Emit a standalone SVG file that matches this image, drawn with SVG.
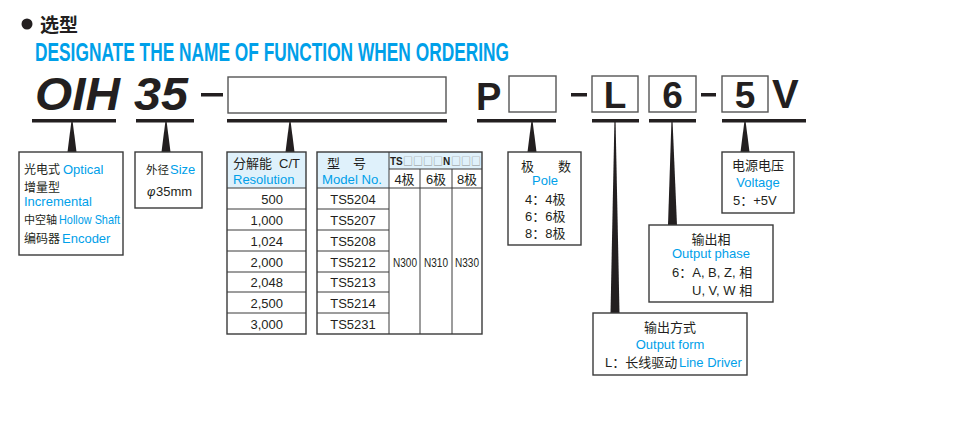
<svg xmlns="http://www.w3.org/2000/svg" width="963" height="428" viewBox="0 0 963 428">
<style>
.t{font-family:"Liberation Sans","Noto Sans CJK SC",sans-serif;font-size:13px;fill:#231f20}
.b{fill:#00a0e9}
.big{font-family:"Liberation Sans",Arial,sans-serif;font-weight:bold;fill:#231f20}
.box{fill:#fff;stroke:#3a3a3a;stroke-width:1.4}
.cbox{fill:#fff;stroke:#555;stroke-width:1.4}
.hdr{fill:#dff1fb;stroke:none}
.ln{stroke:#3a3a3a;stroke-width:1;fill:none}
.bar{fill:#231f20}
.conn{fill:#231f20}
.sq{font-family:"Noto Sans CJK SC",sans-serif;font-weight:normal;fill:#8a8a8a}
</style>
<rect width="963" height="428" fill="#fff"/>
<g id="title">
<circle cx="27" cy="24" r="5.5" fill="#231f20"/>
<text x="40" y="32" style="font-family:'Noto Sans CJK SC',sans-serif;font-weight:bold;font-size:19px;fill:#231f20">选型</text>
<text x="35" y="61" textLength="474" lengthAdjust="spacingAndGlyphs" style="font-family:'Liberation Sans',Arial,sans-serif;font-weight:bold;font-size:25px;fill:#00a0e9">DESIGNATE THE NAME OF FUNCTION WHEN ORDERING</text>
</g>
<g id="code">
<text class="big" x="35" y="110" font-size="46" font-style="italic" textLength="85" lengthAdjust="spacingAndGlyphs">OIH</text>
<text class="big" x="134" y="110" font-size="46" font-style="italic" textLength="54" lengthAdjust="spacingAndGlyphs">35</text>
<rect class="bar" x="201" y="93" width="22" height="3.5"/>
<rect class="cbox" x="228" y="77" width="218" height="36"/>
<text class="big" x="476" y="110" font-size="38">P</text>
<rect class="cbox" x="509" y="76" width="47" height="36"/>
<rect class="bar" x="571" y="93" width="16" height="3.5"/>
<rect class="cbox" x="592" y="76" width="46" height="36"/>
<text class="big" x="615" y="108" font-size="37" text-anchor="middle">L</text>
<rect class="cbox" x="649" y="76" width="47" height="36"/>
<text class="big" x="672.5" y="108" font-size="37" text-anchor="middle">6</text>
<rect class="bar" x="701" y="93" width="15" height="3.5"/>
<rect class="cbox" x="722" y="76" width="46" height="36"/>
<text class="big" x="745" y="108" font-size="37" text-anchor="middle">5</text>
<text class="big" x="772" y="108" font-size="40">V</text>
<rect class="bar" x="32" y="119" width="84" height="3.5"/>
<rect class="bar" x="136" y="119" width="58" height="3.5"/>
<rect class="bar" x="227" y="119" width="220" height="3.5"/>
<rect class="bar" x="477" y="119" width="79" height="3.5"/>
<rect class="bar" x="592" y="119" width="47" height="3.5"/>
<rect class="bar" x="649" y="119" width="47" height="3.5"/>
<rect class="bar" x="722" y="119" width="84" height="3.5"/>
</g>
<g id="connectors">
<polygon class="conn" points="71.3,122 72.7,122 76.5,152 67.5,152"/>
<polygon class="conn" points="165.3,122 166.7,122 170.5,152 161.5,152"/>
<polygon class="conn" points="289.3,122 290.7,122 294.5,152 285.5,152"/>
<polygon class="conn" points="531.3,122 532.7,122 536.5,152 527.5,152"/>
<polygon class="conn" points="614.4,122 615.6,122 619.5,313 610.5,313"/>
<polygon class="conn" points="671.4,122 672.6,122 677,225 668,225"/>
<polygon class="conn" points="744.3,122 745.7,122 749.5,152 740.5,152"/>
</g>
<g id="function">
<rect class="box" x="19" y="152" width="104" height="103"/>
<text class="t" x="24" y="174"><tspan style="font-size:12px">光电式</tspan><tspan class="b" x="63">Optical</tspan></text>
<text class="t" x="24" y="192" style="font-size:12px">增量型</text>
<text class="t b" x="24" y="206">Incremental</text>
<text class="t" x="24" y="224" style="font-size:11px">中空轴</text>
<text class="t b" x="59" y="224" textLength="61" lengthAdjust="spacingAndGlyphs">Hollow Shaft</text>
<text class="t" x="24" y="243"><tspan style="font-size:12px">编码器</tspan><tspan class="b" x="62">Encoder</tspan></text>
</g>
<g id="size">
<rect class="box" x="135" y="152" width="67" height="56"/>
<text class="t" x="146" y="174" style="font-size:11.5px">外径</text>
<text class="t b" x="170" y="174">Size</text>
<text class="t" x="147" y="196"><tspan font-style="italic">φ</tspan><tspan x="156">35mm</tspan></text>
</g>
<g id="resolution">
<rect class="hdr" x="227" y="152" width="79" height="36"/>
<rect x="227" y="152" width="79" height="182" fill="none" stroke="#3a3a3a" stroke-width="1.4"/>
<line class="ln" x1="227" y1="188" x2="306" y2="188" stroke-width="1.5"/>
<line class="ln" x1="227" y1="209" x2="306" y2="209"/>
<line class="ln" x1="227" y1="230" x2="306" y2="230"/>
<line class="ln" x1="227" y1="251" x2="306" y2="251"/>
<line class="ln" x1="227" y1="272" x2="306" y2="272"/>
<line class="ln" x1="227" y1="292" x2="306" y2="292"/>
<line class="ln" x1="227" y1="313" x2="306" y2="313"/>
<text class="t" x="233" y="168">分解能<tspan x="279">C/T</tspan></text>
<text class="t b" x="233" y="184">Resolution</text>
<text class="t" x="283" y="204" text-anchor="end">500</text>
<text class="t" x="283" y="225" text-anchor="end">1,000</text>
<text class="t" x="283" y="246" text-anchor="end">1,024</text>
<text class="t" x="283" y="267" text-anchor="end">2,000</text>
<text class="t" x="283" y="287" text-anchor="end">2,048</text>
<text class="t" x="283" y="308" text-anchor="end">2,500</text>
<text class="t" x="283" y="329" text-anchor="end">3,000</text>
</g>
<g id="model">
<rect class="hdr" x="317" y="152" width="165" height="17"/>
<rect class="hdr" x="317" y="169" width="72" height="19"/>
<rect x="317" y="152" width="165" height="182" fill="none" stroke="#3a3a3a" stroke-width="1.4"/>
<line class="ln" x1="389" y1="152" x2="389" y2="334"/>
<line class="ln" x1="420" y1="169" x2="420" y2="334"/>
<line class="ln" x1="452" y1="169" x2="452" y2="334"/>
<line class="ln" x1="389" y1="169" x2="482" y2="169"/>
<line class="ln" x1="317" y1="188" x2="482" y2="188" stroke-width="1.5"/>
<line class="ln" x1="317" y1="209" x2="389" y2="209"/>
<line class="ln" x1="317" y1="230" x2="389" y2="230"/>
<line class="ln" x1="317" y1="251" x2="389" y2="251"/>
<line class="ln" x1="317" y1="272" x2="389" y2="272"/>
<line class="ln" x1="317" y1="292" x2="389" y2="292"/>
<line class="ln" x1="317" y1="313" x2="389" y2="313"/>
<text class="t" x="327" y="168">型<tspan x="353">号</tspan></text>
<text class="t b" x="322" y="184" textLength="60" lengthAdjust="spacingAndGlyphs">Model No.</text>
<text x="390" y="165" style="font-family:'Liberation Sans',sans-serif;font-size:10px;font-weight:bold;fill:#231f20">TS<tspan class="sq" x="403">□□□□</tspan><tspan x="443">N</tspan><tspan class="sq" x="451">□□□</tspan></text>
<text class="t" x="404.5" y="184" text-anchor="middle">4极</text>
<text class="t" x="436" y="184" text-anchor="middle">6极</text>
<text class="t" x="467" y="184" text-anchor="middle">8极</text>
<text class="t" x="353" y="204" text-anchor="middle">TS5204</text>
<text class="t" x="353" y="225" text-anchor="middle">TS5207</text>
<text class="t" x="353" y="246" text-anchor="middle">TS5208</text>
<text class="t" x="353" y="267" text-anchor="middle">TS5212</text>
<text class="t" x="353" y="287" text-anchor="middle">TS5213</text>
<text class="t" x="353" y="308" text-anchor="middle">TS5214</text>
<text class="t" x="353" y="329" text-anchor="middle">TS5231</text>
<text class="t" x="393" y="267" style="font-size:12px" textLength="24" lengthAdjust="spacingAndGlyphs">N300</text>
<text class="t" x="424" y="267" style="font-size:12px" textLength="24" lengthAdjust="spacingAndGlyphs">N310</text>
<text class="t" x="455" y="267" style="font-size:12px" textLength="24" lengthAdjust="spacingAndGlyphs">N330</text>
</g>
<g id="pole">
<rect class="box" x="508" y="152" width="73" height="93"/>
<text class="t" x="521" y="171">极<tspan x="558">数</tspan></text>
<text class="t b" x="545" y="185" text-anchor="middle">Pole</text>
<text class="t" x="525" y="204">4：4极</text>
<text class="t" x="525" y="221">6：6极</text>
<text class="t" x="525" y="238">8：8极</text>
</g>
<g id="voltage">
<rect class="box" x="722" y="152" width="72" height="61"/>
<text class="t" x="758" y="170" text-anchor="middle">电源电压</text>
<text class="t b" x="758" y="187" text-anchor="middle">Voltage</text>
<text class="t" x="733" y="205">5：+5V</text>
</g>
<g id="phase">
<rect class="box" x="649" y="225" width="124" height="77"/>
<text class="t" x="711" y="244" text-anchor="middle">输出相</text>
<text class="t b" x="711" y="258" text-anchor="middle">Output phase</text>
<text class="t" x="672" y="277">6：A, B, Z, 相</text>
<text class="t" x="692" y="295">U, V, W 相</text>
</g>
<g id="form">
<rect class="box" x="593" y="313" width="154" height="62"/>
<text class="t" x="670" y="332" text-anchor="middle">输出方式</text>
<text class="t b" x="670" y="349" text-anchor="middle">Output form</text>
<text class="t" x="605" y="367">L：长线驱动<tspan class="b" x="679">Line Driver</tspan></text>
</g>
</svg>
